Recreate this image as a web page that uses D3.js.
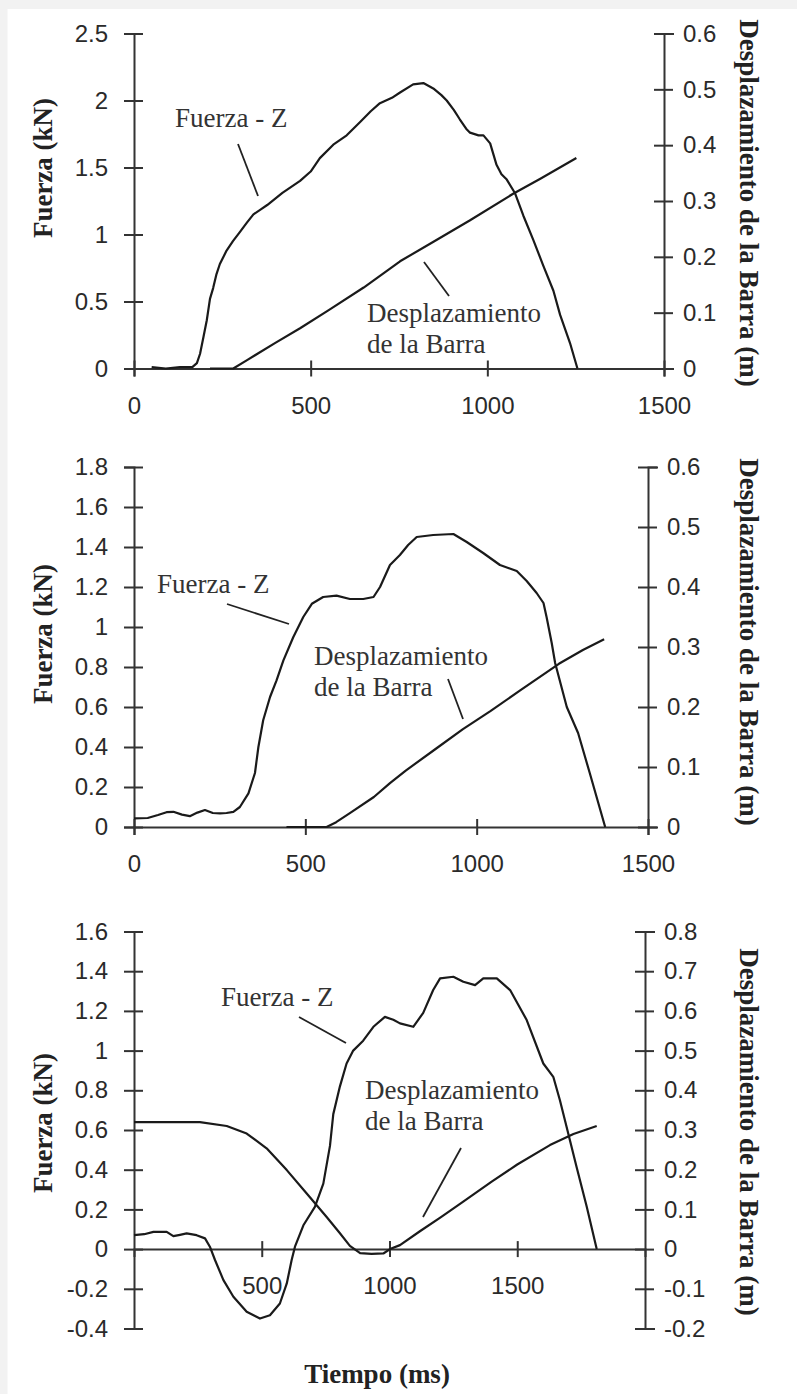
<!DOCTYPE html>
<html>
<head>
<meta charset="utf-8">
<script src="https://cdn.jsdelivr.net/npm/d3@7"></script>
<style>
  html, body { margin: 0; padding: 0; background: #fff; }
  svg { display: block; }
  .tick text { font-family: "Liberation Sans", Arial, sans-serif; font-size: 24px; fill: #2a2a2a; }
  .ttl { font-family: "Liberation Serif", "Times New Roman", serif; font-weight: bold; font-size: 27px; fill: #222; }
  .ann { font-family: "Liberation Serif", "Times New Roman", serif; font-size: 27px; fill: #333; }
</style>
</head>
<body>
<script>
// ---------- DATA ----------
// Chart 1
const timeTicks1 = [0, 500, 1000, 1500];
const forceTicks1 = [0, 0.5, 1, 1.5, 2, 2.5];
const dispTicks1 = [0, 0.1, 0.2, 0.3, 0.4, 0.5, 0.6];
const fuerza1 = [[50,0.01],[90,0],[130,0.01],[165,0.01],[178,0.04],[187,0.11],[197,0.24],[206,0.36],[215,0.52],[224,0.6],[233,0.7],[243,0.78],[262,0.88],[280,0.95],[300,1.02],[320,1.09],[338,1.15],[360,1.19],[377,1.22],[420,1.31],[470,1.40],[500,1.47],[526,1.57],[564,1.67],[602,1.74],[640,1.84],[670,1.92],[696,1.98],[730,2.02],[753,2.06],[790,2.12],[819,2.13],[847,2.09],[870,2.04],[885,2.0],[905,1.93],[922,1.86],[940,1.79],[951,1.76],[975,1.74],[989,1.74],[1008,1.68],[1026,1.52],[1040,1.45],[1055,1.41],[1078,1.31],[1102,1.14],[1130,0.96],[1158,0.77],[1187,0.58],[1206,0.40],[1234,0.19],[1255,0]];
const desp1 = [[215,0],[250,0],[281,0],[320,0.015],[400,0.046],[470,0.072],[550,0.104],[650,0.145],[753,0.192],[850,0.228],[950,0.265],[1073,0.313],[1150,0.34],[1252,0.377]];

// Chart 2
const timeTicks2 = [0, 500, 1000, 1500];
const forceTicks2 = [0, 0.2, 0.4, 0.6, 0.8, 1, 1.2, 1.4, 1.6, 1.8];
const dispTicks2 = [0, 0.1, 0.2, 0.3, 0.4, 0.5, 0.6];
const fuerza2 = [[0,0.043],[40,0.045],[70,0.06],[95,0.074],[115,0.076],[140,0.062],[163,0.054],[185,0.072],[207,0.085],[230,0.07],[251,0.068],[270,0.07],[290,0.076],[309,0.10],[334,0.168],[353,0.27],[363,0.40],[377,0.534],[397,0.65],[416,0.733],[436,0.833],[465,0.95],[494,1.05],[519,1.116],[552,1.15],[591,1.157],[630,1.14],[669,1.14],[699,1.15],[718,1.20],[747,1.31],[776,1.36],[800,1.41],[825,1.45],[873,1.46],[932,1.465],[971,1.425],[1019,1.37],[1068,1.31],[1117,1.28],[1146,1.23],[1175,1.17],[1195,1.12],[1204,1.05],[1219,0.92],[1229,0.82],[1263,0.60],[1296,0.47],[1330,0.27],[1375,0]];
const desp2 = [[445,0],[562,0],[590,0.008],[630,0.023],[700,0.05],[747,0.073],[793,0.094],[880,0.13],[960,0.163],[1040,0.193],[1128,0.228],[1240,0.272],[1310,0.295],[1372,0.313]];

// Chart 3
const timeTicks3 = [500, 1000, 1500];
const forceTicks3 = [-0.4, -0.2, 0, 0.2, 0.4, 0.6, 0.8, 1, 1.2, 1.4, 1.6];
const dispTicks3 = [-0.2, -0.1, 0, 0.1, 0.2, 0.3, 0.4, 0.5, 0.6, 0.7, 0.8];
const fuerza3 = [[0,0.07],[40,0.075],[76,0.087],[128,0.087],[154,0.065],[180,0.072],[206,0.079],[245,0.07],[278,0.054],[297,0.012],[317,-0.055],[350,-0.156],[389,-0.24],[441,-0.316],[493,-0.35],[532,-0.333],[571,-0.274],[598,-0.173],[617,-0.055],[630,0.012],[663,0.12],[708,0.213],[741,0.33],[767,0.52],[780,0.68],[806,0.82],[832,0.935],[858,1.0],[897,1.05],[937,1.12],[982,1.17],[1015,1.155],[1041,1.137],[1093,1.12],[1132,1.19],[1171,1.305],[1198,1.364],[1250,1.372],[1289,1.347],[1335,1.33],[1367,1.364],[1420,1.364],[1472,1.305],[1537,1.154],[1602,0.935],[1641,0.868],[1667,0.75],[1693,0.616],[1732,0.415],[1772,0.213],[1811,0.0]];
const desp3 = [[0,0.32],[258,0.32],[363,0.31],[441,0.291],[519,0.254],[598,0.199],[676,0.14],[754,0.081],[806,0.04],[845,0.008],[885,-0.01],[930,-0.012],[976,-0.011],[1002,0.0],[1041,0.01],[1119,0.045],[1200,0.08],[1290,0.12],[1400,0.17],[1500,0.213],[1628,0.262],[1720,0.29],[1811,0.31]];

const labelFuerza = "Fuerza - Z";
const labelDesp = ["Desplazamiento", "de la Barra"];
const titleLeft = "Fuerza (kN)";
const titleRight = "Desplazamiento de la Barra (m)";
const titleBottom = "Tiempo (ms)";

// ---------- LAYOUT ----------
const W = 797, H = 1394;
const charts = [
  { xDom:[0,1500], xR:[134,664], fDom:[0,2.5], dDom:[0,0.6], yR:[368.5,33.5],
    tT:timeTicks1, fT:forceTicks1, dT:dispTicks1, F:fuerza1, D:desp1,
    lt:[52,168], rt:[740,203],
    fz:{x:175,y:127,l:[238,144,258,196]}, ds:{x:367,y:322,l:[424,262,449,296]} },
  { xDom:[0,1500], xR:[134,648], fDom:[0,1.8], dDom:[0,0.6], yR:[827,467],
    tT:timeTicks2, fT:forceTicks2, dT:dispTicks2, F:fuerza2, D:desp2,
    lt:[52,634], rt:[740,642],
    fz:{x:157,y:593,l:[227,604,289,624]}, ds:{x:314,y:665,l:[448,679,463,719]} },
  { xDom:[0,2000], xR:[134,645], fDom:[-0.4,1.6], dDom:[-0.2,0.8], yR:[1328.5,931.5],
    tT:timeTicks3, fT:forceTicks3, dT:dispTicks3, F:fuerza3, D:desp3,
    lt:[52,1123], rt:[740,1132],
    fz:{x:221,y:1006,l:[299,1017,346,1043]}, ds:{x:365,y:1099,l:[461,1148,423,1217]} }
];

const svg = d3.select("body").append("svg").attr("width", W).attr("height", H);
svg.append("rect").attr("width", W).attr("height", H).attr("fill", "#fff");
svg.append("rect").attr("x",0).attr("y",0).attr("width",W).attr("height",9).attr("fill","#f2f2f2");
svg.append("rect").attr("x",0).attr("y",0).attr("width",7.5).attr("height",H).attr("fill","#f2f2f2");

const fmt = d => String(d);
const axisColor = "#333";
const lineColor = "#1a1a1a";

charts.forEach(c => {
  const x = d3.scaleLinear().domain(c.xDom).range(c.xR);
  const yF = d3.scaleLinear().domain(c.fDom).range(c.yR);
  const yD = d3.scaleLinear().domain(c.dDom).range(c.yR);
  const g = svg.append("g");
  const zeroY = yF(0);

  // x axis
  const gx = g.append("g").attr("transform", `translate(0,${zeroY})`)
    .call(d3.axisBottom(x).tickValues(c.tT).tickFormat(fmt).tickSizeOuter(0).tickSize(8));
  gx.select(".domain").attr("stroke", axisColor).attr("stroke-width", 2);
  gx.selectAll(".tick line").attr("y1", -8).attr("y2", 8).attr("stroke", axisColor).attr("stroke-width", 2);
  gx.selectAll(".tick text").attr("y", 28).attr("dy", "0.71em");

  // left axis
  const gl = g.append("g").attr("transform", `translate(${c.xR[0]},0)`)
    .call(d3.axisLeft(yF).tickValues(c.fT).tickFormat(fmt).tickSizeOuter(0).tickSize(10));
  gl.select(".domain").attr("stroke", axisColor).attr("stroke-width", 2);
  gl.selectAll(".tick line").attr("x1", -10).attr("x2", 9).attr("stroke", axisColor).attr("stroke-width", 2);
  gl.selectAll(".tick text").attr("x", -26);

  // right axis
  const gr = g.append("g").attr("transform", `translate(${c.xR[1]},0)`)
    .call(d3.axisRight(yD).tickValues(c.dT).tickFormat(fmt).tickSizeOuter(0).tickSize(10));
  gr.select(".domain").attr("stroke", axisColor).attr("stroke-width", 2);
  gr.selectAll(".tick line").attr("x1", -10).attr("x2", 9).attr("stroke", axisColor).attr("stroke-width", 2);
  gr.selectAll(".tick text").attr("x", 19);

  // series
  const lineF = d3.line().x(d => x(d[0])).y(d => yF(d[1]));
  const lineD = d3.line().x(d => x(d[0])).y(d => yD(d[1]));
  g.append("path").datum(c.D).attr("d", lineD).attr("fill","none").attr("stroke", lineColor).attr("stroke-width", 2.2).attr("stroke-linejoin","round");
  g.append("path").datum(c.F).attr("d", lineF).attr("fill","none").attr("stroke", lineColor).attr("stroke-width", 2.2).attr("stroke-linejoin","round");

  // axis titles
  g.append("text").attr("class","ttl").attr("text-anchor","middle")
    .attr("transform", `translate(${c.lt[0]},${c.lt[1]}) rotate(-90)`).text(titleLeft);
  g.append("text").attr("class","ttl").attr("text-anchor","middle")
    .attr("transform", `translate(${c.rt[0]},${c.rt[1]}) rotate(90)`).text(titleRight);

  // annotations
  g.append("text").attr("class","ann").attr("x", c.fz.x).attr("y", c.fz.y).text(labelFuerza);
  g.append("line").attr("x1",c.fz.l[0]).attr("y1",c.fz.l[1]).attr("x2",c.fz.l[2]).attr("y2",c.fz.l[3]).attr("stroke","#222").attr("stroke-width",1.8);
  labelDesp.forEach((t,i) => g.append("text").attr("class","ann").attr("x", c.ds.x).attr("y", c.ds.y + i*31).text(t));
  g.append("line").attr("x1",c.ds.l[0]).attr("y1",c.ds.l[1]).attr("x2",c.ds.l[2]).attr("y2",c.ds.l[3]).attr("stroke","#222").attr("stroke-width",1.8);
});

svg.append("text").attr("class","ttl").attr("text-anchor","middle").attr("x", 377).attr("y", 1383).text(titleBottom);
</script>
</body>
</html>
